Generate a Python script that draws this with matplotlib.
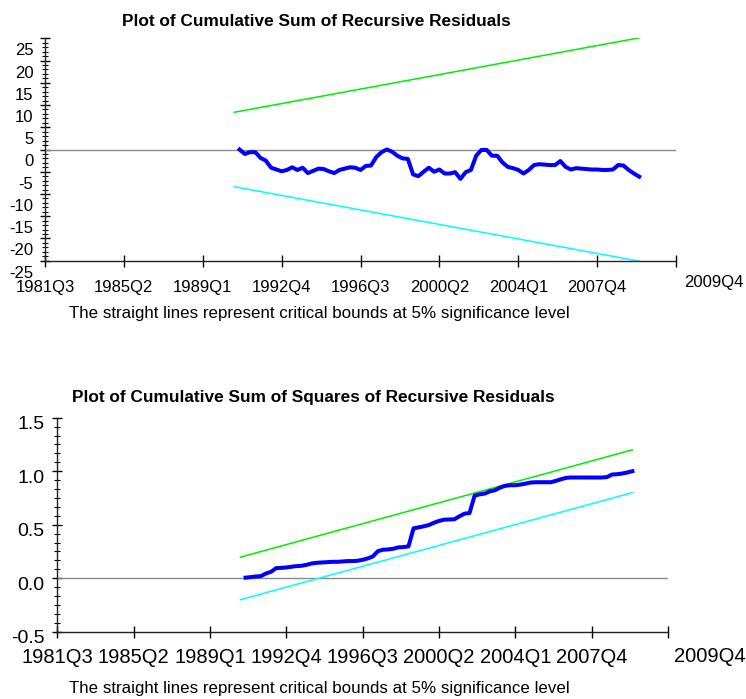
import matplotlib
matplotlib.use("Agg")
import matplotlib.pyplot as plt
from matplotlib.ticker import MultipleLocator
from matplotlib.transforms import offset_copy

plt.rcParams['font.family'] = ['Liberation Sans', 'DejaVu Sans']

# quarter labels used on the x axis
tick_labels = ["1981Q3", "1985Q2", "1989Q1", "1992Q4", "1996Q3", "2000Q2", "2004Q1", "2007Q4"]
axis_end = "2011Q3"
last_label = "2009Q4"

series_start = "1990Q4"
bound_dates = ["1990Q3", "2009Q4"]

# CUSUM of recursive residuals (1990Q4 .. 2009Q4)
cusum = [0.0, -1.0, -0.6, -0.6, -1.9, -2.5, -4.1, -4.5, -4.9, -4.6,
         -4.0, -4.6, -4.1, -5.3, -4.8, -4.3, -4.4, -4.9, -5.3, -4.6,
         -4.3, -4.0, -4.1, -4.6, -3.7, -3.6, -1.7, -0.6, 0.0, -0.5,
         -1.4, -2.0, -2.1, -5.6, -6.0, -5.0, -4.1, -5.0, -4.5, -5.4,
         -5.4, -5.1, -6.6, -5.1, -4.6, -1.4, -0.1, -0.1, -1.4, -1.4,
         -2.9, -3.9, -4.2, -4.6, -5.4, -4.6, -3.5, -3.3, -3.4, -3.5,
         -3.5, -2.6, -3.9, -4.5, -4.2, -4.3, -4.4, -4.5, -4.5, -4.6,
         -4.6, -4.5, -3.5, -3.6, -4.6, -5.4, -6.1]
cusum_upper = [8.37, 25.1]
cusum_lower = [-8.37, -25.1]

# CUSUM of squares of recursive residuals (1990Q4 .. 2009Q4)
cusumsq = [0.005, 0.010, 0.016, 0.019, 0.044, 0.060, 0.094, 0.097, 0.100, 0.107,
           0.113, 0.116, 0.125, 0.138, 0.144, 0.147, 0.150, 0.153, 0.153, 0.156,
           0.160, 0.160, 0.163, 0.172, 0.185, 0.203, 0.253, 0.266, 0.269, 0.275,
           0.288, 0.291, 0.297, 0.466, 0.475, 0.485, 0.497, 0.518, 0.535, 0.547,
           0.549, 0.550, 0.578, 0.603, 0.609, 0.772, 0.784, 0.791, 0.812, 0.822,
           0.847, 0.863, 0.869, 0.869, 0.875, 0.884, 0.894, 0.897, 0.897, 0.897,
           0.897, 0.910, 0.925, 0.938, 0.941, 0.941, 0.941, 0.941, 0.941, 0.941,
           0.941, 0.945, 0.969, 0.972, 0.978, 0.988, 1.000]
cusumsq_upper = [0.197, 1.2]
cusumsq_lower = [-0.2, 0.8]

caption = "The straight lines represent critical bounds at 5% significance level"


def qpos(label):
    # quarters since 1981Q3
    return (int(label[:4]) - 1981) * 4 + int(label[-1]) - 3


fig = plt.figure(figsize=(7.46, 6.99), dpi=100)

x0 = qpos(series_start)
xs = list(range(x0, x0 + len(cusum)))
xb = [qpos(d) for d in bound_dates]
ticks = [qpos(t) for t in tick_labels] + [qpos(axis_end)]


def setup(ax, ylim, major, minor, yfont, xfont, xpad, ydx, ydy, lab_pos):
    for s in ["top", "right"]:
        ax.spines[s].set_visible(False)
    for s in ["left", "bottom"]:
        ax.spines[s].set_linewidth(1.0)
        ax.spines[s].set_color("#222222")
    ax.set_xlim(0, qpos(axis_end))
    ax.set_ylim(*ylim)
    ax.set_xticks(ticks)
    ax.set_xticklabels(tick_labels + [""], fontsize=xfont)
    ax.tick_params(axis="x", direction="inout", length=8, width=1, pad=xpad)
    ax.yaxis.set_major_locator(MultipleLocator(major))
    ax.yaxis.set_minor_locator(MultipleLocator(minor))
    ax.tick_params(axis="y", which="major", direction="inout", length=7.5, width=1)
    ax.tick_params(axis="y", which="minor", direction="inout", length=4.5, width=0.8)
    ax.set_yticklabels([])
    # y labels sit a little below their ticks, as in the original output
    tr = offset_copy(ax.get_yaxis_transform(), fig=fig, x=-ydx, y=-ydy, units="dots")
    v = ylim[0]
    while v <= ylim[1] + 1e-9:
        txt = "%g" % v if major >= 1 else "%.1f" % v
        ax.text(0, v, txt, transform=tr, ha="right", va="baseline", fontsize=yfont)
        v += major
    fig.text(lab_pos[0], lab_pos[1], last_label, ha="center", va="baseline", fontsize=xfont)


# top panel: CUSUM
ax1 = fig.add_axes([45 / 746, 1 - 260.7 / 699, 631 / 746, 222.4 / 699])
ax1.axhline(0, color="#8a8a8a", lw=1.0)
ax1.plot(xb, cusum_upper, color="#00ee00", lw=1.1)
ax1.plot(xb, cusum_lower, color="#00ffff", lw=1.1)
ax1.plot(xs, cusum, color="#0000ff", lw=2.9, solid_joinstyle="round")
setup(ax1, (-25, 25), 5, 1, 12, 12, 9.8, 11.7, 17.0, (714 / 746, 1 - 287.5 / 699))
fig.text(316 / 746, 1 - 26 / 699, "Plot of Cumulative Sum of Recursive Residuals",
         ha="center", va="baseline", fontsize=12.4, fontweight="bold")
fig.text(319 / 746, 1 - 318.3 / 699, caption, ha="center", va="baseline", fontsize=12.2)

# bottom panel: CUSUM of squares
ax2 = fig.add_axes([57.3 / 746, 1 - 631.7 / 699, 610.7 / 746, 214 / 699])
ax2.axhline(0, color="#8a8a8a", lw=1.0)
ax2.plot(xb, cusumsq_upper, color="#00ee00", lw=1.1)
ax2.plot(xb, cusumsq_lower, color="#00ffff", lw=1.1)
ax2.plot(xs, cusumsq, color="#0000ff", lw=2.9, solid_joinstyle="round")
setup(ax2, (-0.5, 1.5), 0.5, 0.5 / 6, 14, 14.5, 7.6, 12.7, 11.5, (710 / 746, 1 - 662 / 699))
fig.text(313 / 746, 1 - 401.7 / 699, "Plot of Cumulative Sum of Squares of Recursive Residuals",
         ha="center", va="baseline", fontsize=12.4, fontweight="bold")
fig.text(319 / 746, 1 - 693.5 / 699, caption, ha="center", va="baseline", fontsize=12.2)

fig.savefig("out.png", dpi=100)
